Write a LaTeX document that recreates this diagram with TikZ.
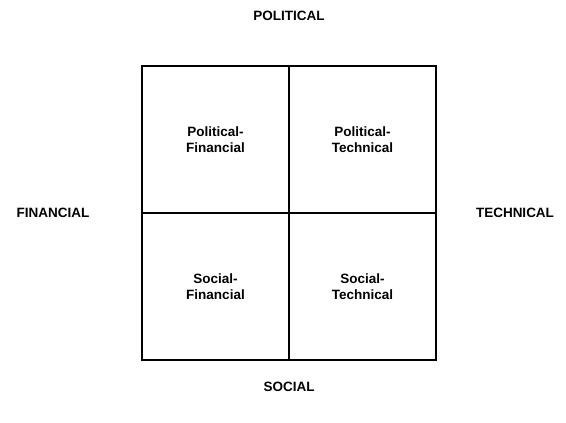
\documentclass[tikz,border=0pt]{standalone}
\usepackage{fontspec}
\setmainfont{Liberation Sans}
\usepackage{tikz}
\usetikzlibrary{positioning}
\tikzset{quad/.style = {draw, line width=1.5pt, minimum size=147pt, inner sep=0pt, outer sep=0pt, align=center, font=\fontsize{13.5}{16.5}\selectfont\bfseries}}
\tikzset{side/.style = {font=\fontsize{13.5}{16}\selectfont\bfseries}}

\begin{document}
\begin{tikzpicture} [x=1pt, y=-1pt]
\useasboundingbox (0,0) rectangle (566,423);
\node[quad] (pf) at (215.5,139.5) {Political-\\Financial};
\node[quad, right=0pt of pf] (pt) {Political-\\Technical};
\node[quad, below=0pt of pf] (sf) {Social-\\Financial};
\node[quad, below=0pt of pt] (st) {Social-\\Technical};
\node[side] (pol) at (289,16) {POLITICAL};
\node[side] (soc) at (289,387) {SOCIAL};
\node[side] (fin) at (53,213) {FINANCIAL};
\node[side] (tec) at (515,213) {TECHNICAL};
\end{tikzpicture}
\end{document}
